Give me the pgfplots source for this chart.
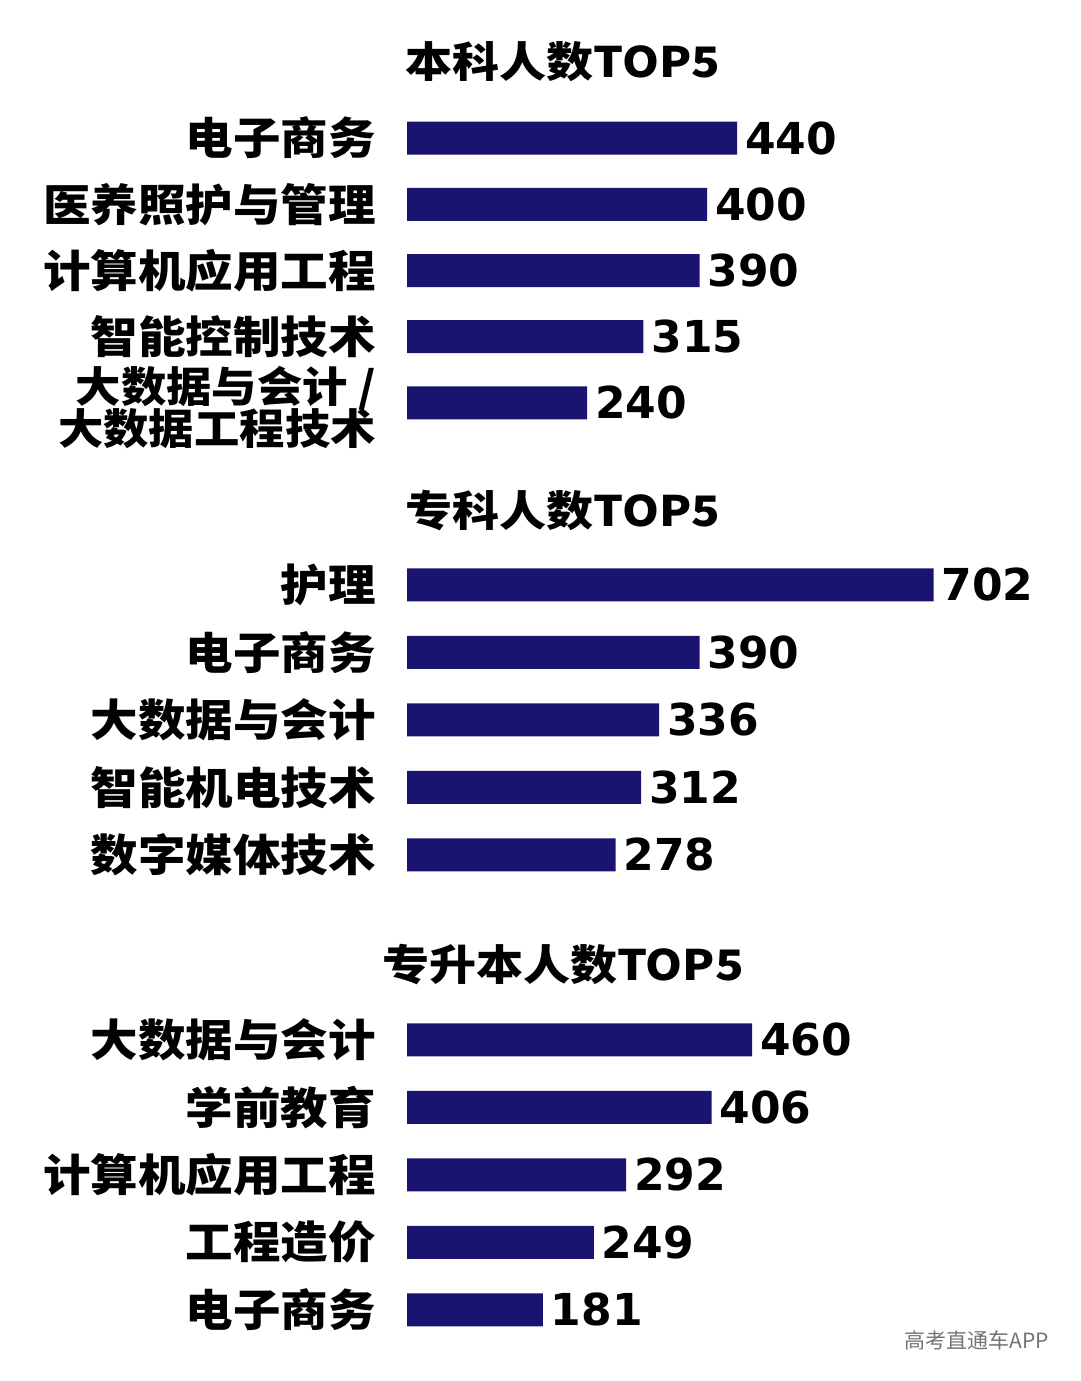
\documentclass[border=0pt]{standalone}
\usepackage{pgfplots}
\pgfplotsset{compat=1.18}
\usepackage{fontspec}
\newfontfamily\cjk{Noto Sans CJK SC}
\newfontfamily\cjkw{Noto Sans CJK SC}[FakeStretch=1.08]
\newfontfamily\cjkt{Noto Sans CJK SC}[FakeStretch=1.12]
\newfontfamily\num{DejaVu Sans}
\definecolor{barc}{RGB}{24,20,112}
\pgfplotsset{grp/.style={
  xbar, scale only axis, width=600bp, xmin=0, xmax=800,
  ymin=-0.5, ymax=4.5, y dir=reverse,
  bar width=33bp, axis line style={draw=none}, xtick=\empty, ytick={0,1,2,3,4},
  major tick length=0pt,
  /pgf/number format/assume math mode=true,
  yticklabel style={font=\cjkw\bfseries\fontsize{44bp}{37bp}\selectfont, align=right, inner sep=0pt, xshift=-31bp},
  nodes near coords, nodes near coords align=horizontal,
  every node near coord/.append style={font=\num\bfseries\fontsize{44bp}{44bp}\selectfont, anchor=west, inner sep=0pt, xshift=8bp, text=black},
  anchor=north west, clip=false,
  title style={font=\cjkt\bfseries\fontsize{42bp}{42bp}\selectfont, at={(0.26,1)}, anchor=center},
}}
\begin{document}
\begin{tikzpicture}[x=1bp,y=1bp]
\path[use as bounding box] (0,0) rectangle (1080,-1381);
\begin{axis}[grp, at={(407bp,-105bp)}, height=331bp,
  title={本科人数TOP5}, title style={yshift=37bp},
  yticklabels={电子商务,医养照护与管理,计算机应用工程,智能控制技术,{\raisebox{0pt}[\dimexpr\height+16bp\relax][\depth]{\fontsize{42bp}{37bp}\selectfont\begin{tabular}{@{}r@{}}大数据与会计 /\\[-6bp]大数据工程技术\end{tabular}}}}]
\addplot[fill=barc, draw=none] coordinates {(440,0) (400,1) (390,2) (315,3) (240,4)};
\end{axis}
\begin{axis}[grp, at={(407bp,-551bp)}, height=337.5bp,
  title={专科人数TOP5}, title style={yshift=34bp},
  yticklabels={护理,电子商务,大数据与会计,智能机电技术,数字媒体技术}]
\addplot[fill=barc, draw=none] coordinates {(702,0) (390,1) (336,2) (312,3) (278,4)};
\end{axis}
\begin{axis}[grp, at={(407bp,-1006bp)}, height=337.5bp,
  title={专升本人数TOP5}, title style={yshift=36bp},
  yticklabels={大数据与会计,学前教育,计算机应用工程,工程造价,电子商务}]
\addplot[fill=barc, draw=none] coordinates {(460,0) (406,1) (292,2) (249,3) (181,4)};
\end{axis}
\node[font=\cjk\fontsize{21bp}{21bp}\selectfont, text=black!55] at (977,-1340) {高考直通车APP};
\end{tikzpicture}
\end{document}
